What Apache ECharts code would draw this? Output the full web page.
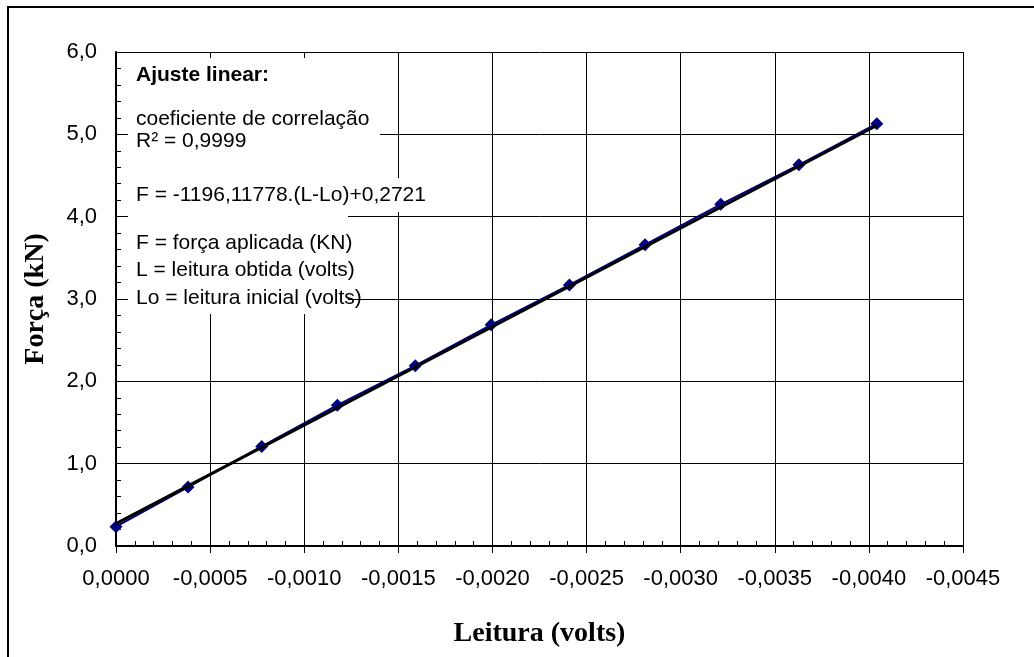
<!DOCTYPE html>
<html>
<head>
<meta charset="utf-8">
<script src="https://cdn.jsdelivr.net/npm/echarts@6/dist/echarts.min.js"></script>
<style>
html,body{margin:0;padding:0;background:#fff;}
#chart{width:1034px;height:657px;}
</style>
</head>
<body>
<div id="chart"></div>
<script>
// Leitura (volts) and Força (kN)
var leitura = [0.0000, -0.000383, -0.000774, -0.001176, -0.001590, -0.001993, -0.002409, -0.002811, -0.003213, -0.003628, -0.004042];
var forca   = [0.235, 0.716, 1.210, 1.710, 2.190, 2.687, 3.170, 3.660, 4.150, 4.630, 5.130];
// linear fit endpoints (F = -1196,11778.(L-Lo)+0,2721)
var trendX = [0.0000, -0.004042];
var trendY = [0.2721, 5.1069];
var annotationLines = [
  'Ajuste linear:',
  'coeficiente de correlação',
  'R² = 0,9999',
  'F = -1196,11778.(L-Lo)+0,2721',
  'F = força aplicada (KN)',
  'L = leitura obtida (volts)',
  'Lo = leitura inicial (volts)'
];
var xTitle = 'Leitura (volts)';
var yTitle = 'Força (kN)';

var chart = echarts.init(document.getElementById('chart'));
var pts = leitura.map(function (x, i) { return [x, forca[i]]; });
var trend = trendX.map(function (x, i) { return [x, trendY[i]]; });

function fmtX(v) { if (Math.abs(v) < 1e-12) v = 0; return v.toFixed(4).replace('.', ','); }
function fmtY(v) { return v.toFixed(1).replace('.', ','); }

var sans = 'Liberation Sans, Arial, sans-serif';
var serif = 'Liberation Serif, Times New Roman, serif';

var textY = [75, 119, 141, 195, 243, 270, 298];
var textEls = annotationLines.map(function (t, i) {
  return {
    type: 'text', left: 136, top: textY[i] - 10, z: 11,
    style: { text: t, fontFamily: sans, fontSize: 21, fontWeight: i === 0 ? 'bold' : 'normal', fill: '#000' }
  };
});

chart.setOption({
  animation: false,
  backgroundColor: '#fff',
  grid: { left: 116, right: 71, top: 52, bottom: 111 },
  xAxis: [{
    type: 'value', min: -0.0045, max: 0, interval: 0.0005, inverse: true,
    axisLine: { show: true, onZero: false, lineStyle: { color: '#000', width: 2 } },
    axisTick: { show: true, inside: false, length: 7, lineStyle: { color: '#000', width: 1 } },
    axisLabel: { formatter: fmtX, color: '#000', fontFamily: sans, fontSize: 22, margin: 22 },
    splitLine: { show: true, lineStyle: { color: '#000', width: 1 } },
    name: xTitle, nameLocation: 'middle', nameGap: 74,
    nameTextStyle: { fontFamily: serif, fontWeight: 'bold', fontSize: 28, color: '#000' }
  }, {
    type: 'value', min: -0.0045, max: 0, interval: 0.0001, inverse: true, position: 'bottom',
    axisLine: { show: false },
    axisTick: { show: true, inside: true, length: 5, lineStyle: { color: '#000', width: 1 } },
    axisLabel: { show: false },
    splitLine: { show: false }
  }],
  yAxis: {
    type: 'value', min: 0, max: 6, interval: 1,
    axisLine: { show: true, onZero: false, lineStyle: { color: '#000', width: 2 } },
    axisTick: { show: true, inside: true, length: 6, lineStyle: { color: '#000', width: 1 } },
    minorTick: { show: true, splitNumber: 5, length: 5, lineStyle: { color: '#000', width: 1 } },
    axisLabel: { formatter: fmtY, color: '#000', fontFamily: sans, fontSize: 22, margin: 19 },
    splitLine: { show: true, lineStyle: { color: '#000', width: 1 } },
    name: yTitle, nameLocation: 'middle', nameGap: 66, nameRotate: 90,
    nameTextStyle: { fontFamily: serif, fontWeight: 'bold', fontSize: 28, color: '#000' }
  },
  series: [{
    type: 'line', data: pts, xAxisIndex: 0,
    symbol: 'diamond', symbolSize: 13, showSymbol: true,
    lineStyle: { color: '#000080', width: 2 },
    itemStyle: { color: '#000080' }, z: 2
  }, {
    type: 'line', data: trend, xAxisIndex: 0,
    symbol: 'none',
    lineStyle: { color: '#000', width: 3 }, z: 3
  }],
  graphic: [
    { type: 'rect', shape: { x: 8, y: 7, width: 1040, height: 700 }, style: { fill: 'none', stroke: '#000', lineWidth: 2 }, z: 20, silent: true },
    { type: 'rect', shape: { x: 128, y: 58, width: 220, height: 256 }, style: { fill: '#fff' }, z: 10, silent: true },
    { type: 'rect', shape: { x: 128, y: 58, width: 252, height: 100 }, style: { fill: '#fff' }, z: 10, silent: true },
    { type: 'rect', shape: { x: 128, y: 178, width: 282, height: 34 }, style: { fill: '#fff' }, z: 10, silent: true }
  ].concat(textEls)
});
</script>
</body>
</html>
